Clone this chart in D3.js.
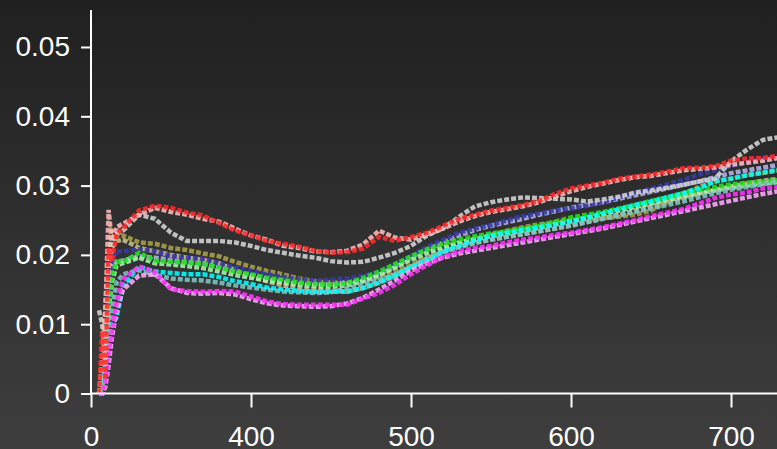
<!DOCTYPE html>
<html><head><meta charset="utf-8">
<script src="https://cdn.jsdelivr.net/npm/d3@7/dist/d3.min.js"></script>
<style>html,body{margin:0;padding:0;overflow:hidden;background:#2c2c2c}</style>
</head><body>
<svg id="chart" width="777" height="449"></svg>
<script>
// ---- data ----
const wavelengths = [305,307,309,311,313,316,320,330,340,350,360,370,380,390,400,410,420,430,440,450,460,470,480,490,500,510,520,530,540,550,560,570,580,590,600,610,620,630,640,650,660,670,680,690,700,710,720,730];
const xTickValues = [300,400,500,600,700];
const xTickLabels = ["0","400","500","600","700"];
const yTickValues = [0,0.01,0.02,0.03,0.04,0.05];
const yTickLabels = ["0","0.01","0.02","0.03","0.04","0.05"];

const tan = [0.000,0.003,0.010,0.017,0.021,0.022, 0.0222,0.021,0.0205,0.02,0.0196,0.0193,0.0188,0.0178,0.017, 0.0162,0.0156,0.0152,0.015,0.0148,0.0147,0.0152,0.016,0.017,0.0182, 0.0194,0.0204,0.0212,0.0218,0.0222,0.0226,0.023,0.0234,0.0238,0.0243, 0.0248,0.0253,0.0258,0.0264,0.027,0.0276,0.0282,0.0288,0.0294,0.0299, 0.0303,0.0307,0.031];
const olive = [0.000,0.004,0.013,0.020,0.0235,0.0228, 0.0228,0.0218,0.0216,0.021,0.0207,0.0202,0.0198,0.019,0.0183, 0.0177,0.0172,0.0166,0.0162,0.016,0.016,0.0162,0.0168,0.0176,0.0185, 0.0197,0.0208,0.0216,0.0223,0.0229,0.0235,0.024,0.0244,0.0247,0.025, 0.0251,0.0253,0.0255,0.0258,0.0264,0.0276,0.0288,0.0298,0.0306,0.031, 0.0315,0.0318,0.0322];
const lavender = [0.000,0.003,0.009,0.016,0.019,0.019, 0.0192,0.0198,0.0196,0.0193,0.019,0.0188,0.0182,0.0176,0.0171, 0.0166,0.0163,0.016,0.0158,0.0158,0.016,0.0164,0.0172,0.0183,0.0196, 0.0208,0.0218,0.0228,0.0236,0.0242,0.0247,0.0252,0.0258,0.0263,0.0268, 0.0272,0.0276,0.0281,0.0286,0.0291,0.0296,0.0301,0.0306,0.0312,0.0318, 0.0322,0.0326,0.033];
const navy = [0.000,0.000,0.006,0.014,0.019,0.0205, 0.0205,0.0208,0.0205,0.0198,0.0196,0.0194,0.0188,0.0182,0.0177, 0.0172,0.0168,0.0165,0.0163,0.0164,0.0166,0.017,0.0175,0.0185,0.0198, 0.0212,0.0222,0.0232,0.0238,0.0243,0.025,0.0256,0.026,0.0264,0.0267, 0.0271,0.0276,0.0283,0.029,0.0296,0.0302,0.0308,0.0316,0.0322,0.0328, 0.0334,0.0338,0.034];
const lightGreen = [0.000,0.001,0.007,0.012,0.016,0.0185, 0.0188,0.0196,0.0188,0.0186,0.0184,0.0181,0.0176,0.0171,0.0167, 0.0163,0.016,0.0157,0.0155,0.0154,0.0156,0.0162,0.0171,0.0182,0.0193, 0.0203,0.0211,0.0218,0.0223,0.0227,0.0231,0.0235,0.0239,0.0244,0.0249, 0.0254,0.0259,0.0264,0.0269,0.0274,0.0279,0.0284,0.0289,0.0293,0.0297, 0.03,0.0303,0.0305];
const green = [0.000,0.002,0.008,0.013,0.017,0.019, 0.019,0.0203,0.0192,0.019,0.0189,0.0187,0.0182,0.0176,0.0172, 0.0167,0.0164,0.016,0.0158,0.0157,0.0159,0.0167,0.0176,0.0187,0.0198, 0.0208,0.0216,0.0222,0.0227,0.0231,0.0234,0.0238,0.0242,0.0248,0.0254, 0.0258,0.0262,0.0267,0.0272,0.0278,0.0283,0.0289,0.0294,0.0298,0.0302, 0.0304,0.0306,0.0308];
const teal = [0.000,0.000,0.003,0.008,0.012,0.016, 0.0172,0.0178,0.0171,0.0166,0.0164,0.0163,0.016,0.0156,0.0153, 0.015,0.0147,0.0146,0.0145,0.0146,0.0152,0.0158,0.0164,0.0172,0.0183, 0.0195,0.0204,0.0211,0.0217,0.0222,0.0226,0.023,0.0234,0.0238,0.0242, 0.0247,0.0252,0.0257,0.0262,0.0267,0.0272,0.0277,0.0283,0.0289,0.0294, 0.0298,0.0302,0.0306];
const cyan = [0.000,0.000,0.004,0.008,0.010,0.011, 0.0155,0.0183,0.0176,0.0174,0.0172,0.0172,0.0168,0.0162,0.0158, 0.0153,0.015,0.0148,0.0147,0.0147,0.0147,0.0152,0.016,0.017,0.0182, 0.0192,0.0205,0.0213,0.0221,0.0228,0.0232,0.0236,0.024,0.0244,0.0248, 0.0254,0.026,0.0266,0.0272,0.0277,0.0283,0.0289,0.0296,0.0306,0.031, 0.0315,0.0319,0.0323];
const paleMagenta = [0.000,0.000,0.001,0.004,0.008,0.012, 0.015,0.017,0.0172,0.0152,0.0145,0.0144,0.0145,0.0143,0.0136, 0.013,0.0127,0.0126,0.0125,0.0126,0.013,0.0138,0.015,0.0163,0.0177, 0.0188,0.0196,0.0202,0.0206,0.021,0.0214,0.0218,0.0222,0.0226,0.023, 0.0234,0.0238,0.0243,0.0248,0.0253,0.0258,0.0263,0.0268,0.0273,0.0278, 0.0283,0.0288,0.0292];
const magenta = [0.000,0.000,0.002,0.006,0.009,0.013, 0.0165,0.0183,0.0175,0.015,0.0148,0.0147,0.0148,0.0147,0.014, 0.0133,0.0129,0.0128,0.0128,0.0128,0.0128,0.0137,0.0145,0.0157,0.0172, 0.0185,0.0197,0.0205,0.021,0.0213,0.0218,0.0222,0.0225,0.0229,0.0232, 0.0236,0.024,0.0245,0.025,0.0256,0.0261,0.0266,0.0274,0.0282,0.0287, 0.029,0.0296,0.0298];
const gray = [0.012,0.010,0.004,0.018,0.022,0.023, 0.0235,0.0258,0.0252,0.0232,0.022,0.022,0.022,0.0218,0.0213, 0.0207,0.0203,0.0199,0.0196,0.0191,0.0189,0.019,0.0196,0.0203,0.0213, 0.0228,0.0238,0.0255,0.027,0.0276,0.028,0.0283,0.0282,0.0281,0.028, 0.0277,0.028,0.0284,0.029,0.0293,0.0297,0.0301,0.0306,0.031,0.0335, 0.0352,0.0366,0.037];
const pink = [0.000,0.005,0.012,0.0265,0.022,0.024, 0.0245,0.0258,0.0268,0.0262,0.0258,0.0252,0.0248,0.0238,0.0228, 0.0222,0.0213,0.021,0.0205,0.0204,0.0206,0.0215,0.0235,0.0225,0.0222, 0.023,0.0238,0.0248,0.0256,0.0262,0.0266,0.027,0.0276,0.0284,0.0292, 0.0298,0.0303,0.0308,0.0312,0.0314,0.0318,0.0322,0.0324,0.0326,0.033, 0.0333,0.0336,0.034];
const red = [0.000,0.009,0.002,0.021,0.019,0.023, 0.0238,0.0264,0.0271,0.0268,0.0261,0.0257,0.0246,0.0235,0.0228, 0.022,0.0216,0.0212,0.0206,0.0203,0.0204,0.0209,0.0226,0.022,0.0226, 0.0232,0.0242,0.0252,0.0258,0.0264,0.0268,0.0272,0.0278,0.0288,0.0296, 0.03,0.0304,0.031,0.0313,0.0316,0.032,0.0325,0.0326,0.0328,0.0336, 0.0339,0.034,0.0343];

const seriesList = [tan, olive, lavender, navy, lightGreen, green, teal, cyan, paleMagenta, magenta, gray, pink, red];
// ---- styles ----
const seriesColors = ["#cbbf90","#a8a048","#b4b4ee","#3a3aa8","#a8f5a8","#22e022","#80c4c4","#00ffff","#ffaaff","#ff33ff","#d4d4d4","#ffb8b8","#ff2a2a"];

const W = 777, H = 449;
const svg = d3.select("#chart");
const defs = svg.append("defs");
const grad = defs.append("linearGradient").attr("id","bg").attr("x1",0).attr("y1",0).attr("x2",0).attr("y2",1);
grad.append("stop").attr("offset","0%").attr("stop-color","#202020");
grad.append("stop").attr("offset","100%").attr("stop-color","#3e3e3e");
svg.append("rect").attr("width",W).attr("height",H).attr("fill","url(#bg)");

const x = d3.scaleLinear().domain([300,700]).range([91,731]);
const y = d3.scaleLinear().domain([0,0.05]).range([393.5,47]);

const line = d3.line().x(d=>x(d[0])).y(d=>y(d[1]));
const g = svg.append("g");
seriesList.forEach((s,i)=>{
  g.append("path")
    .datum(wavelengths.map((w,j)=>[w,s[j]]))
    .attr("d",line)
    .attr("fill","none")
    .attr("stroke",seriesColors[i])
    .attr("stroke-width",4.5)
    .attr("stroke-dasharray","5,2")
    .attr("stroke-opacity",0.88)
    .attr("stroke-linejoin","miter");
});

// axes
const font = "'Liberation Sans', Arial, sans-serif";
const yAxis = d3.axisLeft(y).tickValues(yTickValues).tickFormat((d,i)=>yTickLabels[i]).tickSize(10).tickPadding(11).tickSizeOuter(0);
const ya = svg.append("g").attr("transform","translate(91,0)").call(yAxis);
const xAxis = d3.axisBottom(x).tickValues(xTickValues).tickFormat((d,i)=>xTickLabels[i]).tickSize(14).tickPadding(19).tickSizeOuter(0);
const xa = svg.append("g").attr("transform","translate(0,393.5)").call(xAxis);
[ya,xa].forEach(a=>{
  a.select(".domain").remove();
  a.selectAll("line").attr("stroke","#fff").attr("stroke-width",2);
  a.selectAll("text").attr("fill","#fff").style("font-family",font).style("font-size","28px");
});
svg.append("line").attr("x1",91).attr("x2",91).attr("y1",10).attr("y2",393.5).attr("stroke","#fff").attr("stroke-width",2);
svg.append("line").attr("x1",91).attr("x2",W).attr("y1",393.5).attr("y2",393.5).attr("stroke","#fff").attr("stroke-width",2);
</script>
</body></html>
